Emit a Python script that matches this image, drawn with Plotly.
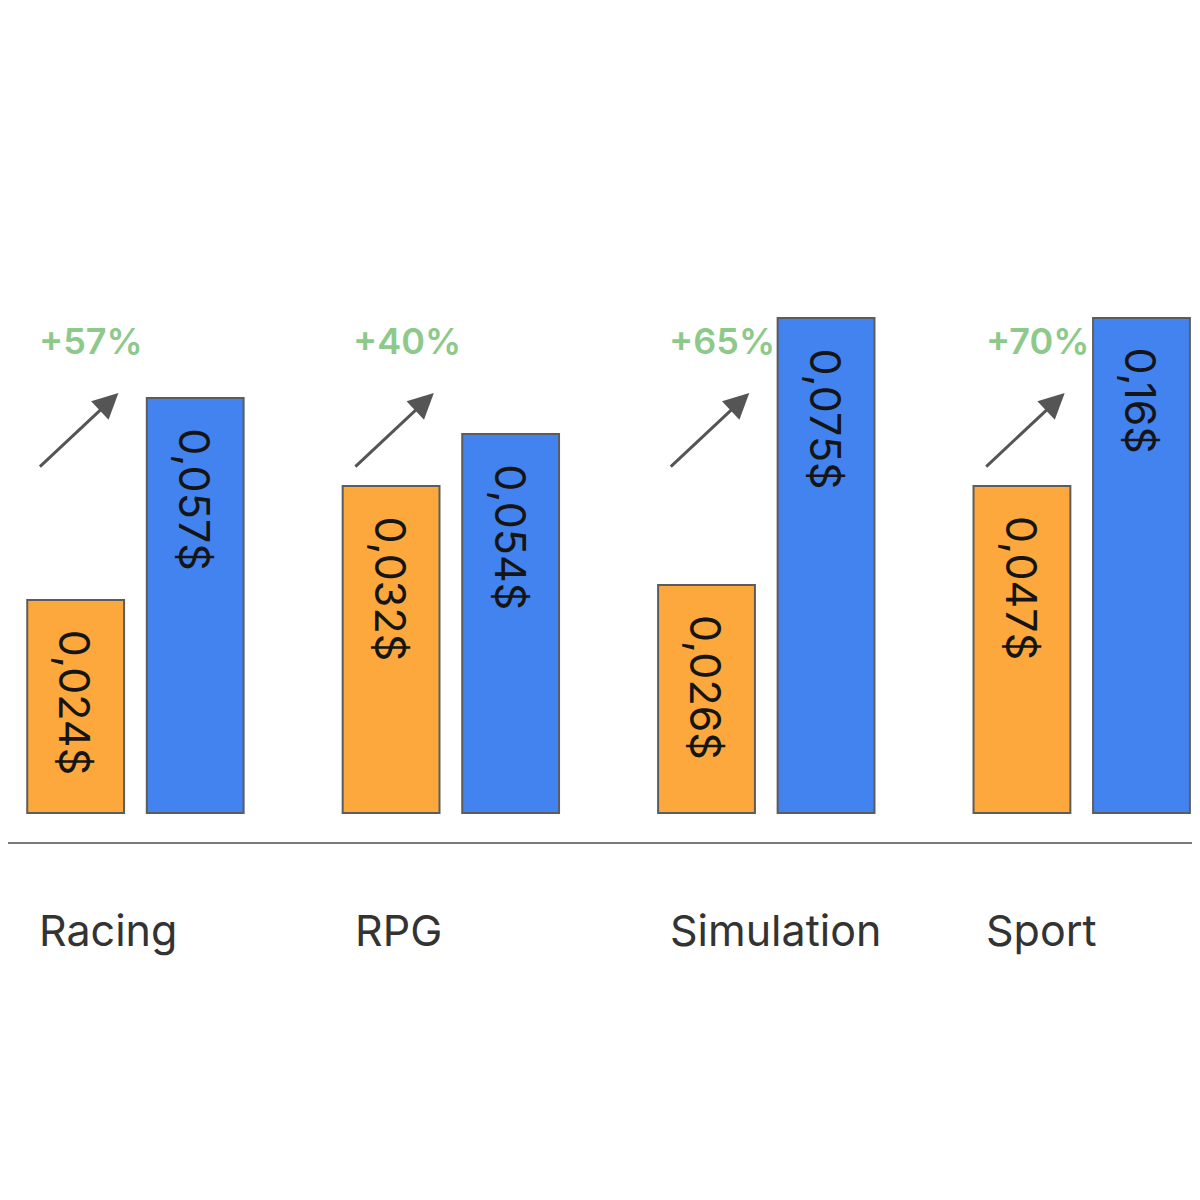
import plotly.graph_objects as go

# Game genres and cost per user before / after (labels as shown on the bars)
genres = ["Racing", "RPG", "Simulation", "Sport"]
before_labels = ["0,024$", "0,032$", "0,026$", "0,047$"]
after_labels = ["0,057$", "0,054$", "0,075$", "0,16$"]
# drawn bar heights (the original chart is not to scale)
before_height = [2.13, 3.27, 2.28, 3.27]
after_height = [4.15, 3.79, 4.95, 4.95]
growth = ["+57%", "+40%", "+65%", "+70%"]

ORANGE = "#fca83c"
BLUE = "#4283ef"
EDGE = "#5c5c5c"
GREEN = "#8dc98a"
FONT = "Inter"

BARGAP = 0.242
slot = (1 - BARGAP) / 2
LABEL_LEVEL = 4.72  # height of the growth labels

fig = go.Figure()
fig.add_trace(go.Bar(x=genres, y=before_height, name="before",
                     marker=dict(color=ORANGE, line=dict(color=EDGE, width=2))))
fig.add_trace(go.Bar(x=genres, y=after_height, name="after",
                     marker=dict(color=BLUE, line=dict(color=EDGE, width=2))))

annotations = []
for i, g in enumerate(genres):
    # value labels, rotated, hanging from the top of each bar
    for off, h, lab in [(-slot / 2, before_height[i], before_labels[i]),
                        (slot / 2, after_height[i], after_labels[i])]:
        annotations.append(dict(x=i + off, y=h, text=lab, textangle=90,
                                showarrow=False, yanchor="top", yshift=-28,
                                font=dict(family=FONT, size=43, color="#151515")))
    # growth arrow + percentage
    annotations.append(dict(x=i, y=LABEL_LEVEL - 0.52, ax=-80, ay=75, text="",
                            showarrow=True, arrowhead=2, arrowsize=1.7,
                            arrowwidth=3, arrowcolor="#555555", xshift=-17))
    annotations.append(dict(x=i, y=LABEL_LEVEL, text=growth[i], showarrow=False,
                            xshift=-44, yanchor="middle",
                            font=dict(family=FONT, size=36, color=GREEN,
                                      weight=600)))
    # genre name below the axis line
    annotations.append(dict(x=i, y=-0.106, yref="paper", text=g, showarrow=False,
                            xanchor="left", yanchor="middle", xshift=-98,
                            font=dict(family=FONT, size=43, color="#333333")))

fig.update_layout(
    width=1192, height=1192,
    margin=dict(l=0, r=0, t=0, b=358),
    barmode="group", bargap=BARGAP, bargroupgap=0.19,
    showlegend=False,
    plot_bgcolor="white", paper_bgcolor="white",
    annotations=annotations,
)
fig.update_xaxes(range=[-0.404, 3.375], showticklabels=False, showgrid=False,
                 showline=True, linecolor="#7a7a7a", linewidth=2, zeroline=False)
fig.update_yaxes(range=[-0.29, 8.05], visible=False)

fig.write_html("out.html")
